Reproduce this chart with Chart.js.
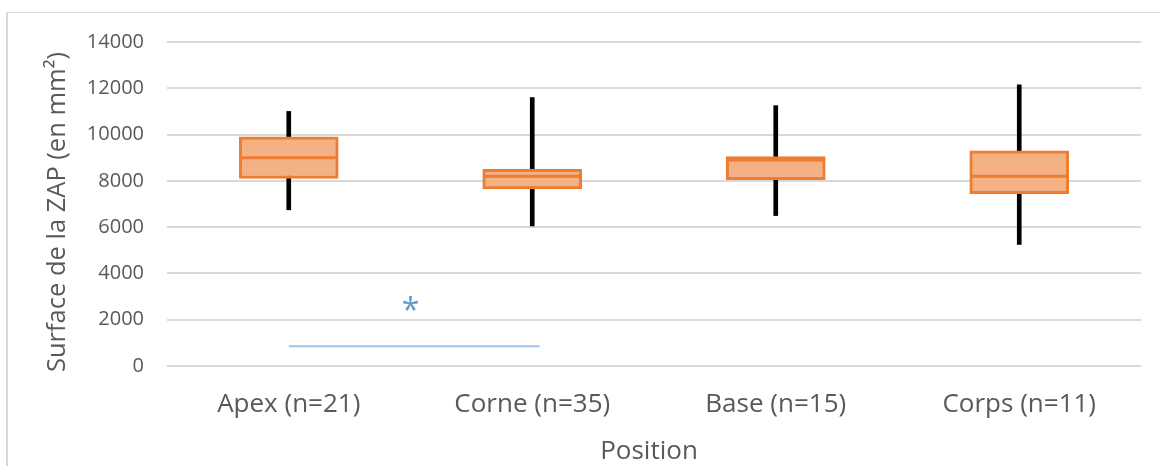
<!DOCTYPE html>
<html>
<head>
<meta charset="utf-8">
<script src="https://cdn.jsdelivr.net/npm/chart.js@4.4.1/dist/chart.umd.min.js"></script>
<style>
  html, body { margin: 0; padding: 0; background: #ffffff; }
  #wrap { position: relative; width: 1160px; height: 466px; overflow: hidden; }
  #frame { position: absolute; left: 6px; top: 12px; width: 1200px; height: 500px;
           border-left: 2px solid #d9d9d9; border-top: 1.5px solid #d9d9d9; box-sizing: border-box; }
  canvas { position: absolute; left: 0; top: 0; }
</style>
</head>
<body>
<div id="wrap">
  <div id="frame"></div>
  <canvas id="c" width="1160" height="466"></canvas>
</div>
<script>
// ---- data ----
const categories = ['Apex (n=21)', 'Corne (n=35)', 'Base (n=15)', 'Corps (n=11)'];
const whiskerMin = [6750, 6050, 6500, 5250];
const whiskerMax = [11000, 11600, 11250, 12150];
const q1         = [8100, 7650, 8050, 7450];
const median     = [9000, 8200, 8900, 8200];
const q3         = [9900, 8500, 9050, 9300];
// significance bracket between Apex and Corne
const sigLineX   = [0, 1.03];
const sigLineY   = [850, 850];
const sigMarkX   = 0.5;
const sigMarkY   = 2700;
const sigMarkText = '*';

const yTitle = 'Surface de la ZAP (en mm²)';
const xTitle = 'Position';

const TEXT = '#595959';
const FONT = "'Open Sans', 'DejaVu Sans', sans-serif";

const annotPlugin = {
  id: 'annot',
  afterDatasetsDraw(chart) {
    const ctx = chart.ctx;
    const xs = chart.scales.x2, ys = chart.scales.y;
    const px = xs.getPixelForValue(sigMarkX);
    const py = ys.getPixelForValue(sigMarkY);
    ctx.save();
    ctx.font = '32px ' + FONT;
    ctx.fillStyle = '#5B9BD5';
    ctx.textAlign = 'center';
    ctx.textBaseline = 'alphabetic';
    const m = ctx.measureText(sigMarkText);
    const base = py + (m.actualBoundingBoxAscent - m.actualBoundingBoxDescent) / 2;
    ctx.fillText(sigMarkText, px, base);
    ctx.restore();
  },
  afterDraw(chart) {
    const ctx = chart.ctx;
    ctx.save();
    ctx.fillStyle = TEXT;
    ctx.textAlign = 'center';
    ctx.textBaseline = 'middle';
    ctx.font = '26px ' + FONT;
    ctx.fillText(xTitle, 649, 452);
    ctx.font = '25.5px ' + FONT;
    ctx.translate(58, 212);
    ctx.rotate(-Math.PI / 2);
    ctx.fillText(yTitle, 0, 0);
    ctx.restore();
  }
};

function zeroPad(s) {
  s.paddingLeft = 0; s.paddingRight = 0; s.paddingTop = 0; s.paddingBottom = 0;
}

new Chart(document.getElementById('c'), {
  data: {
    labels: categories,
    datasets: [
      {
        type: 'bar',
        label: 'whisker',
        data: whiskerMin.map((v, i) => [v, whiskerMax[i]]),
        backgroundColor: '#000000',
        borderWidth: 0,
        barThickness: 4,
        grouped: false,
        order: 4
      },
      {
        type: 'bar',
        label: 'box',
        data: q1.map((v, i) => [v, q3[i]]),
        backgroundColor: '#F4B183',
        borderColor: '#ED7D31',
        borderWidth: 3,
        borderSkipped: false,
        barThickness: 99,
        grouped: false,
        order: 3
      },
      {
        type: 'line',
        label: 'median',
        data: median,
        showLine: false,
        pointStyle: 'line',
        pointRadius: 49,
        pointHoverRadius: 49,
        pointBorderWidth: 3,
        pointBorderColor: '#ED7D31',
        borderColor: '#ED7D31',
        order: 2
      },
      {
        type: 'line',
        label: 'sig',
        xAxisID: 'x2',
        data: sigLineX.map((x, i) => ({ x: x, y: sigLineY[i] })),
        borderColor: '#9DC3E6',
        borderWidth: 2,
        pointRadius: 0,
        fill: false,
        order: 1
      }
    ]
  },
  options: {
    responsive: false,
    animation: false,
    events: [],
    layout: { autoPadding: false, padding: { left: 30, top: 42, right: 19, bottom: 0 } },
    plugins: { legend: { display: false }, tooltip: { enabled: false } },
    scales: {
      x: {
        type: 'category',
        offset: true,
        grid: { display: false, drawTicks: false },
        border: { display: false },
        ticks: { color: TEXT, font: { family: FONT, size: 26 }, padding: 23, maxRotation: 0 },
        afterFit(s) { s.height = 100; zeroPad(s); }
      },
      x2: {
        type: 'linear',
        display: false,
        min: -0.5,
        max: 3.5,
        afterFit(s) { zeroPad(s); }
      },
      y: {
        min: 0,
        max: 14000,
        ticks: { stepSize: 2000, color: TEXT, font: { family: FONT, size: 20 }, padding: 23,
                 callback: (v) => String(v) },
        grid: { color: '#D9D9D9', lineWidth: 2, drawTicks: false },
        border: { display: false },
        afterFit(s) { s.width = 137; zeroPad(s); }
      }
    }
  },
  plugins: [annotPlugin]
});
</script>
</body>
</html>
